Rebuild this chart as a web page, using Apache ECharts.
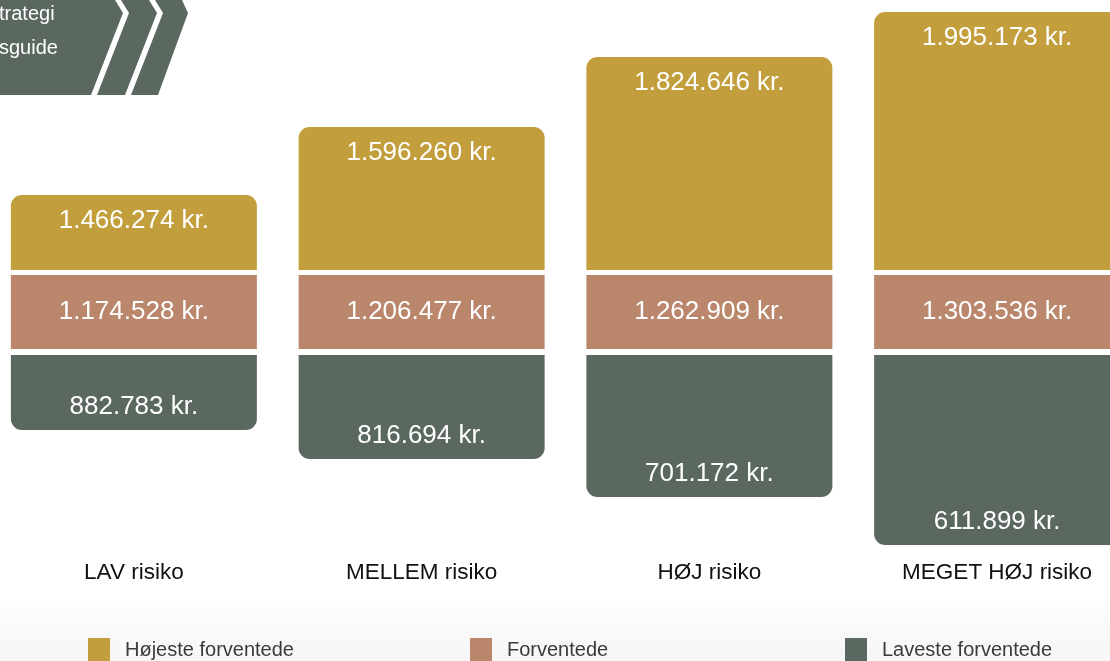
<!DOCTYPE html>
<html><head><meta charset="utf-8">
<script src="https://cdn.jsdelivr.net/npm/echarts@6/dist/echarts.min.js"></script>
<style>html,body{margin:0;padding:0;background:#fff;}#c{width:1110px;height:661px;}</style>
</head><body><div id="c"></div>
<script>
// ---- data ----
const categories = ['LAV risiko', 'MELLEM risiko', 'HØJ risiko', 'MEGET HØJ risiko'];
const highest  = [1466274, 1596260, 1824646, 1995173];   // Højeste forventede
const expected = [1174528, 1206477, 1262909, 1303536];   // Forventede
const lowest   = [882783, 816694, 701172, 611899];       // Laveste forventede
// the infographic is not drawn to scale: extent of the upper / lower blocks (hidden axis units)
const highBarHeight = [75, 143, 213, 258];
const lowBarHeight  = [75, 104, 142, 190];
const legendNames = ['Højeste forventede', 'Forventede', 'Laveste forventede'];

// ---- rendering ----
const FONT = "'Liberation Sans', Arial, Helvetica, sans-serif";
const COL = { gold: '#c29f3c', mid: '#ba876c', gray: '#5b6860' };
const bandHalf = 37, gapUp = 5, gapDown = 6;
const fmt = n => String(n).replace(/\B(?=(\d{3})+(?!\d))/g, '.') + ' kr.';
const lbl = (pos, dist, arr) => ({
  show: true, position: pos, distance: dist, color: '#fff', fontSize: 26, fontFamily: FONT,
  formatter: p => fmt(arr[p.dataIndex])
});
const common = { type: 'bar', barWidth: 246, barGap: '-100%' };
const hidden = { itemStyle: { color: 'transparent' }, silent: true, label: { show: false } };

const chart = echarts.init(document.getElementById('c'), null, { renderer: 'canvas' });
chart.setOption({
  animation: false,
  backgroundColor: '#fff',
  grid: { left: -10, width: 1151, top: 0, height: 550, containLabel: false, outerBoundsMode: 'none' },
  xAxis: {
    type: 'category', data: categories,
    axisLine: { show: false }, axisTick: { show: false }, splitLine: { show: false },
    axisLabel: { margin: 11, fontSize: 22.5, color: '#111', fontFamily: FONT }
  },
  yAxis: { type: 'value', min: -238, max: 312, show: false, splitLine: { show: false } },
  legend: legendNames.map((n, i) => ({
    data: [n], left: [88, 470, 845][i], top: 638, padding: 0,
    itemWidth: 22, itemHeight: 24, icon: 'rect', selectedMode: false,
    textStyle: { fontSize: 20, color: '#3a3a3a', fontFamily: FONT, padding: [0, 0, 0, 10] }
  })),
  graphic: [
    { type: 'rect', z: -1, shape: { x: 0, y: 600, width: 1110, height: 61 },
      style: { fill: new echarts.graphic.LinearGradient(0, 0, 0, 1, [
        { offset: 0, color: 'rgba(245,246,245,0)' }, { offset: 0.5, color: 'rgba(245,246,245,0.7)' }, { offset: 1, color: 'rgba(246,247,246,1)' }]) } },
    { type: 'polygon', shape: { points: [[0, 0], [115, 0], [123, 13], [91, 95], [0, 95]] }, style: { fill: COL.gray } },
    { type: 'polygon', shape: { points: [[121, 0], [149, 0], [157, 13], [125, 95], [97, 95], [129, 13]] }, style: { fill: COL.gray } },
    { type: 'polygon', shape: { points: [[155, 0], [182, 0], [188, 13], [158, 95], [131, 95], [163, 13]] }, style: { fill: COL.gray } },
    { type: 'text', x: -1, y: 14, style: { text: 'trategi', fill: '#fff', fontSize: 20, fontFamily: FONT, verticalAlign: 'middle' } },
    { type: 'text', x: -1, y: 48, style: { text: 'sguide', fill: '#fff', fontSize: 20, fontFamily: FONT, verticalAlign: 'middle' } }
  ],
  series: [
    Object.assign({}, common, hidden, { stack: 'up', data: categories.map(() => bandHalf + gapUp) }),
    Object.assign({}, common, { name: legendNames[0], stack: 'up', data: highBarHeight,
      itemStyle: { color: COL.gold, borderRadius: [11, 11, 0, 0] }, label: lbl('insideTop', 13, highest) }),
    Object.assign({}, common, hidden, { stack: 'mid', stackStrategy: 'all', data: categories.map(() => -bandHalf) }),
    Object.assign({}, common, { name: legendNames[1], stack: 'mid', stackStrategy: 'all', data: categories.map(() => 2 * bandHalf),
      itemStyle: { color: COL.mid }, label: lbl('inside', 0, expected) }),
    Object.assign({}, common, hidden, { stack: 'down', data: categories.map(() => -(bandHalf + gapDown)) }),
    Object.assign({}, common, { name: legendNames[2], stack: 'down', data: lowBarHeight.map(v => -v),
      itemStyle: { color: COL.gray, borderRadius: [0, 0, 11, 11] }, label: lbl('insideBottom', 10, lowest) })
  ]
});
</script>
</body></html>
